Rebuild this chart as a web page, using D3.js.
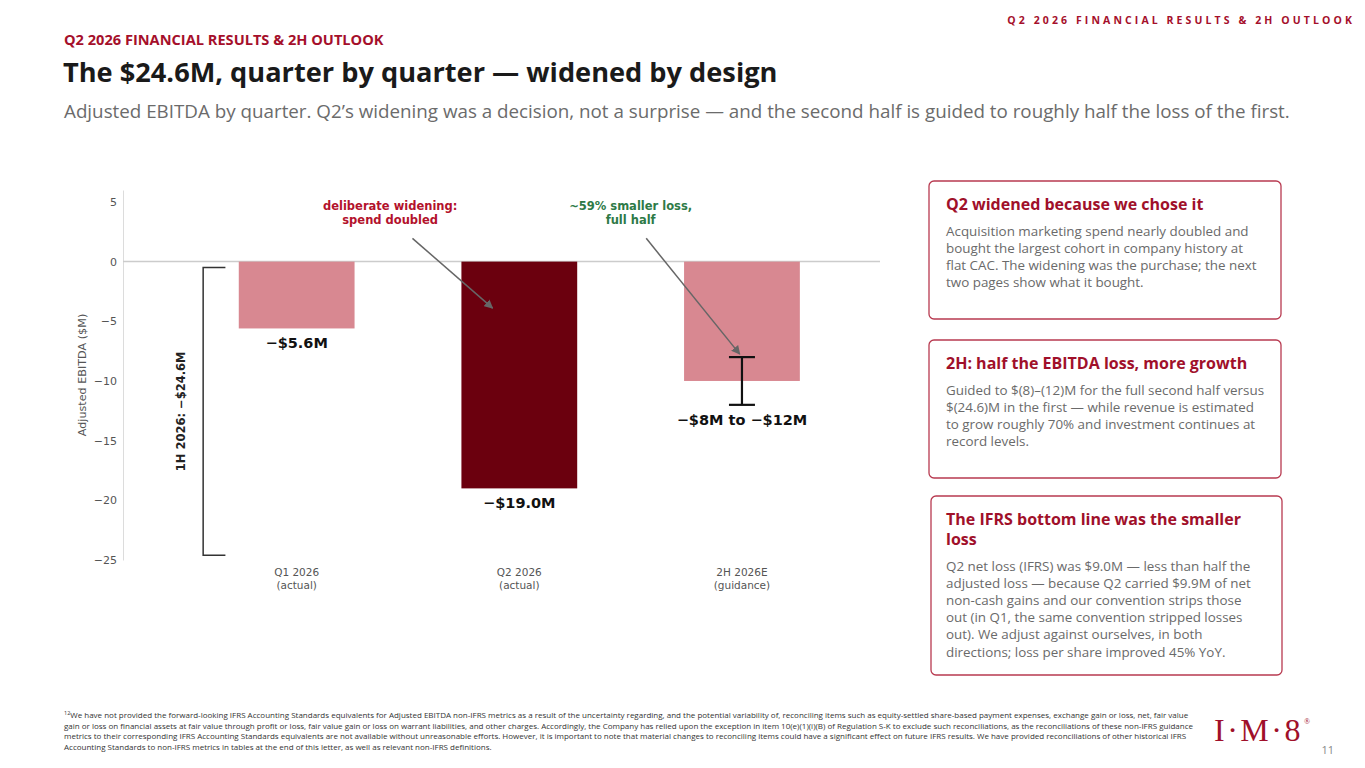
<!DOCTYPE html>
<html>
<head>
<meta charset="utf-8">
<script src="https://cdn.jsdelivr.net/npm/d3@7"></script>
<style>
  body { margin: 0; background: #fff; }
  svg { display: block; }
</style>
</head>
<body>
<div id="slide"></div>
<script>
// Chart data
const categories = ["Q1 2026", "Q2 2026", "2H 2026E"];
const subLabels = ["(actual)", "(actual)", "(guidance)"];
const values = [-5.6, -19.0, -10.0];
const valueLabels = ["\u2212$5.6M", "\u2212$19.0M", "\u2212$8M to \u2212$12M"];
const barColors = ["#d88891", "#6b000e", "#d88891"];
const guidanceRange = [-8, -12];
const yTicks = [5, 0, -5, -10, -15, -20, -25];
const halfBracket = [-0.5, -24.6];

// Side cards text
const cardTitles = [
    ["Q2 widened because we chose it"],
    ["2H: half the EBITDA loss, more growth"],
    ["The IFRS bottom line was the smaller", "loss"]
];
const cardBodies = [
    ["Acquisition marketing spend nearly doubled and",
     "bought the largest cohort in company history at",
     "flat CAC. The widening was the purchase; the next",
     "two pages show what it bought."],
    ["Guided to $(8)\u2013(12)M for the full second half versus",
     "$(24.6)M in the first \u2014 while revenue is estimated",
     "to grow roughly 70% and investment continues at",
     "record levels."],
    ["Q2 net loss (IFRS) was $9.0M \u2014 less than half the",
     "adjusted loss \u2014 because Q2 carried $9.9M of net",
     "non-cash gains and our convention strips those",
     "out (in Q1, the same convention stripped losses",
     "out). We adjust against ourselves, in both",
     "directions; loss per share improved 45% YoY."]
];

const footnote = [
    "We have not provided the forward-looking IFRS Accounting Standards equivalents for Adjusted EBITDA non-IFRS metrics as a result of the uncertainty regarding, and the potential variability of, reconciling items such as equity-settled share-based payment expenses, exchange gain or loss, net, fair value",
    "gain or loss on financial assets at fair value through profit or loss, fair value gain or loss on warrant liabilities, and other charges. Accordingly, the Company has relied upon the exception in item 10(e)(1)(i)(B) of Regulation S-K to exclude such reconciliations, as the reconciliations of these non-IFRS guidance",
    "metrics to their corresponding IFRS Accounting Standards equivalents are not available without unreasonable efforts. However, it is important to note that material changes to reconciling items could have a significant effect on future IFRS results. We have provided reconciliations of other historical IFRS",
    "Accounting Standards to non-IFRS metrics in tables at the end of this letter, as well as relevant non-IFRS definitions."
];

const W = 1365, H = 768;
const slideFont = "'Open Sans', 'Noto Sans', sans-serif";
const chartFont = "'DejaVu Sans', sans-serif";
const red = "#a50f2b";

const svg = d3.select("#slide").append("svg")
    .attr("width", W)
    .attr("height", H);

// ---- header ----
svg.append("text")
    .attr("x", 1355).attr("y", 24)
    .attr("text-anchor", "end")
    .attr("font-family", slideFont).attr("font-weight", 700)
    .attr("font-size", 10.5).attr("letter-spacing", 3.1)
    .attr("fill", red)
    .text("Q2 2026 FINANCIAL RESULTS & 2H OUTLOOK");

svg.append("text")
    .attr("x", 64).attr("y", 45)
    .attr("font-family", slideFont).attr("font-weight", 700)
    .attr("font-size", 14.6).attr("fill", red)
    .text("Q2 2026 FINANCIAL RESULTS & 2H OUTLOOK");

svg.append("text")
    .attr("x", 63).attr("y", 82)
    .attr("font-family", slideFont).attr("font-weight", 700)
    .attr("font-size", 27.2).attr("fill", "#1a1a1a")
    .text("The $24.6M, quarter by quarter \u2014 widened by design");

svg.append("text")
    .attr("x", 64).attr("y", 118)
    .attr("font-family", slideFont)
    .attr("font-size", 18.8).attr("fill", "#6b6b6b")
    .text("Adjusted EBITDA by quarter. Q2\u2019s widening was a decision, not a surprise \u2014 and the second half is guided to roughly half the loss of the first.");

// ---- chart ----
const x = d3.scaleLinear().domain([-0.78, 2.62]).range([123, 880]);
const y = d3.scaleLinear().domain([-25, 6]).range([560, 190]);
const barW = 0.52;

const g = svg.append("g").attr("font-family", chartFont);

// y axis
const yAxis = g.append("g")
    .attr("transform", `translate(${x(-0.78)},0)`)
    .call(d3.axisLeft(y).tickValues(yTicks).tickSize(0).tickPadding(6)
        .tickFormat(d => d < 0 ? "\u2212" + Math.abs(d) : d));
yAxis.select(".domain").attr("stroke", "#dcdcdc").attr("stroke-width", 1);
yAxis.selectAll("text").attr("font-size", 11).attr("fill", "#555").attr("font-family", chartFont);

g.append("text")
    .attr("transform", `translate(86,${y(-9.5)}) rotate(-90)`)
    .attr("text-anchor", "middle")
    .attr("font-size", 11.2).attr("fill", "#555")
    .text("Adjusted EBITDA ($M)");

// zero line
g.append("line")
    .attr("x1", x(-0.78)).attr("x2", x(2.62))
    .attr("y1", y(0)).attr("y2", y(0))
    .attr("stroke", "#cccccc").attr("stroke-width", 1.5);

// bars
g.selectAll("rect.bar")
    .data(values)
    .join("rect")
    .attr("class", "bar")
    .attr("x", (d, i) => x(i - barW / 2))
    .attr("width", x(barW) - x(0))
    .attr("y", y(0))
    .attr("height", d => y(d) - y(0))
    .attr("fill", (d, i) => barColors[i]);

// guidance range error bar
const eb = g.append("g").attr("stroke", "#111").attr("stroke-width", 2.2);
eb.append("line").attr("x1", x(2)).attr("x2", x(2))
    .attr("y1", y(guidanceRange[0])).attr("y2", y(guidanceRange[1]));
guidanceRange.forEach(v => {
    eb.append("line")
        .attr("x1", x(2) - 13).attr("x2", x(2) + 13)
        .attr("y1", y(v)).attr("y2", y(v));
});

// value labels
const labelY = [values[0], values[1], guidanceRange[1]];
g.selectAll("text.vlab")
    .data(valueLabels)
    .join("text")
    .attr("class", "vlab")
    .attr("x", (d, i) => x(i))
    .attr("y", (d, i) => y(labelY[i]) + 20)
    .attr("text-anchor", "middle")
    .attr("font-size", 14.5).attr("font-weight", 700).attr("fill", "#111")
    .text(d => d);

// category labels
g.selectAll("text.cat")
    .data(categories)
    .join("text")
    .attr("class", "cat")
    .attr("x", (d, i) => x(i))
    .attr("y", 576)
    .attr("text-anchor", "middle")
    .attr("font-size", 10.5).attr("fill", "#555")
    .text(d => d);
g.selectAll("text.sub")
    .data(subLabels)
    .join("text")
    .attr("class", "sub")
    .attr("x", (d, i) => x(i))
    .attr("y", 589)
    .attr("text-anchor", "middle")
    .attr("font-size", 10.5).attr("fill", "#555")
    .text(d => d);

// 1H bracket
const bx = x(-0.42), bTick = x(-0.32);
g.append("path")
    .attr("d", `M${bTick},${y(halfBracket[0])} H${bx} V${y(halfBracket[1])} H${bTick}`)
    .attr("fill", "none").attr("stroke", "#333").attr("stroke-width", 1.5);
g.append("text")
    .attr("transform", `translate(${bx - 22},${y((halfBracket[0] + halfBracket[1]) / 2)}) rotate(-90)`)
    .attr("text-anchor", "middle").attr("dominant-baseline", "central")
    .attr("font-size", 11.5).attr("font-weight", 700).attr("fill", "#222")
    .text("1H 2026: \u2212$24.6M");

// annotations
svg.append("defs").append("marker")
    .attr("id", "arr")
    .attr("viewBox", "0 0 10 10")
    .attr("refX", 9).attr("refY", 5)
    .attr("markerWidth", 9).attr("markerHeight", 9)
    .attr("markerUnits", "userSpaceOnUse")
    .attr("orient", "auto")
    .append("path").attr("d", "M0,0 L10,5 L0,10 z").attr("fill", "#666");

const notes = [
    {lines: ["deliberate widening:", "spend doubled"], color: "#b3122c",
     tx: 0.42, ty: 4.3, from: [0.52, 1.95], to: [0.88, -3.9]},
    {lines: ["~59% smaller loss,", "full half"], color: "#2e7a47",
     tx: 1.50, ty: 4.3, from: [1.57, 1.95], to: [1.99, -7.75]}
];
notes.forEach(n => {
    const t = g.append("text")
        .attr("text-anchor", "middle")
        .attr("font-size", 11.5).attr("font-weight", 700).attr("fill", n.color);
    n.lines.forEach((l, i) => {
        t.append("tspan").attr("x", x(n.tx)).attr("y", y(n.ty) + i * 14).text(l);
    });
    g.append("line")
        .attr("x1", x(n.from[0])).attr("y1", y(n.from[1]))
        .attr("x2", x(n.to[0])).attr("y2", y(n.to[1]))
        .attr("stroke", "#666").attr("stroke-width", 1.5)
        .attr("marker-end", "url(#arr)");
});

// ---- side cards ----
const cards = [
    {x: 929, y: 181, w: 352, h: 138},
    {x: 929, y: 340, w: 352, h: 138},
    {x: 931, y: 496, w: 351, h: 179}
];
cards.forEach((c, k) => {
    svg.append("rect")
        .attr("x", c.x).attr("y", c.y).attr("width", c.w).attr("height", c.h)
        .attr("rx", 5).attr("fill", "#fff")
        .attr("stroke", "#b83a50").attr("stroke-width", 1.3);
    let yy = c.y + 29;
    cardTitles[k].forEach(l => {
        svg.append("text")
            .attr("x", 946).attr("y", yy)
            .attr("font-family", slideFont).attr("font-weight", 700)
            .attr("font-size", 16).attr("fill", "#a0102a")
            .text(l);
        yy += 20;
    });
    yy += 6;
    cardBodies[k].forEach(l => {
        svg.append("text")
            .attr("x", 946).attr("y", yy)
            .attr("font-family", slideFont)
            .attr("font-size", 13.4).attr("fill", "#6a6a6a")
            .text(l);
        yy += 17.1;
    });
});

// ---- footnote ----
const fn = svg.append("text")
    .attr("font-family", slideFont).attr("font-size", 8).attr("fill", "#333");
footnote.forEach((l, i) => {
    const ts = fn.append("tspan").attr("x", 64).attr("y", 718 + i * 10.7);
    if (i === 0) {
        ts.append("tspan").attr("font-size", 5.5).attr("dy", -3).text("12");
        ts.append("tspan").attr("dy", 3).text(l);
    } else {
        ts.text(l);
    }
});

// ---- logo + page number ----
svg.append("text")
    .attr("x", 1214).attr("y", 741)
    .attr("font-family", "'Liberation Serif', serif")
    .attr("font-size", 32).attr("letter-spacing", 2.5).attr("fill", "#a0102a")
    .text("I\u00b7M\u00b78");
svg.append("text")
    .attr("x", 1304).attr("y", 724)
    .attr("font-family", "'Liberation Serif', serif")
    .attr("font-size", 8).attr("fill", "#a0102a")
    .text("\u00ae");
svg.append("text")
    .attr("x", 1334).attr("y", 754)
    .attr("text-anchor", "end")
    .attr("font-family", slideFont).attr("font-size", 11).attr("fill", "#888")
    .text("11");
</script>
</body>
</html>
